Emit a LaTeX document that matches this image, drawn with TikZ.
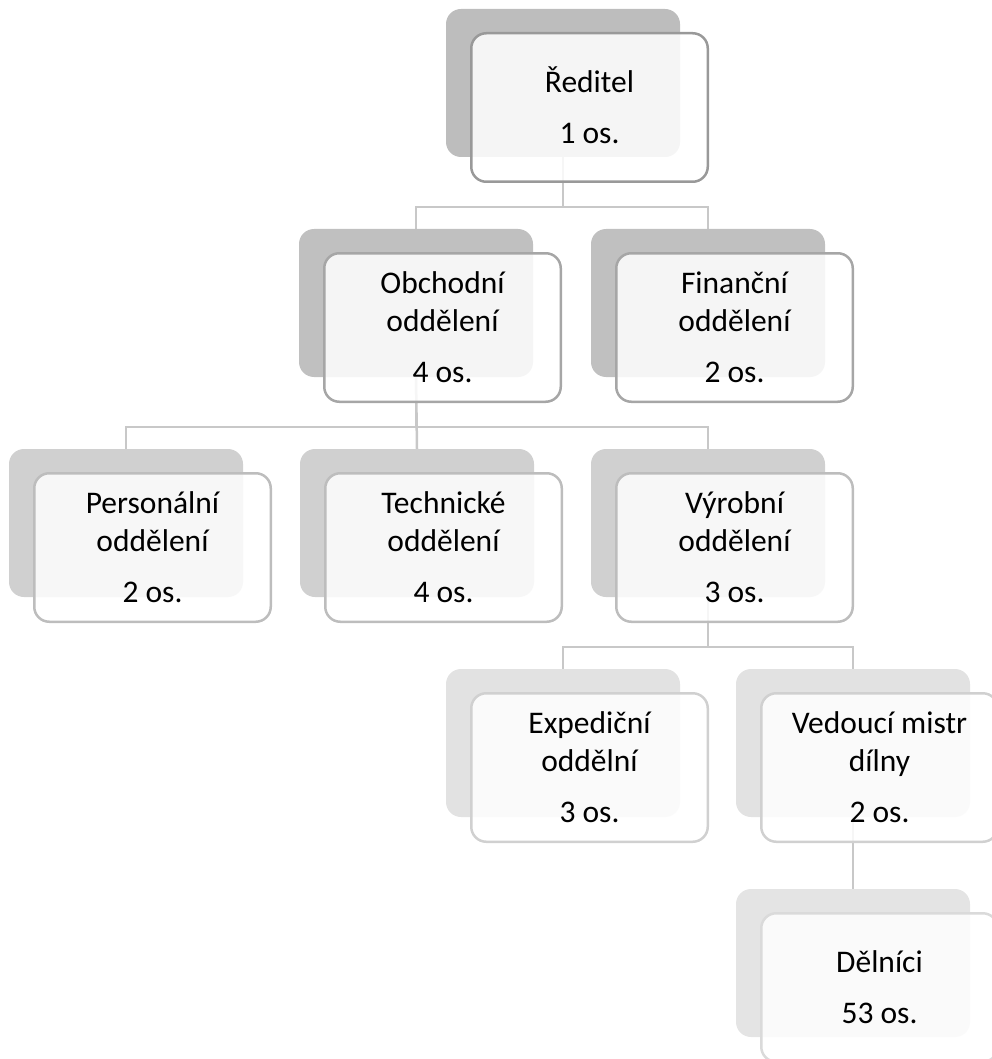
\documentclass[tikz,border=0pt]{standalone}
\usepackage{fontspec}
\setmainfont{Carlito}
\usetikzlibrary{calc,backgrounds}
\definecolor{shA}{HTML}{BDBDBD}\definecolor{bdA}{HTML}{999999}
\definecolor{shB}{HTML}{C0C0C0}\definecolor{bdB}{HTML}{A6A6A6}
\definecolor{shC}{HTML}{D0D0D0}\definecolor{bdC}{HTML}{BDBDBD}
\definecolor{shD}{HTML}{E2E2E2}\definecolor{bdD}{HTML}{D0D0D0}
\definecolor{shE}{HTML}{E4E4E4}\definecolor{bdE}{HTML}{DADADA}
\definecolor{conncol}{HTML}{C8C8C8}
\newcommand\orgunit[6]{%
  \node[shad, fill=#4] (#1s) at (#2,#3) {};
  \node[front, draw=#5] (#1) at ($(#2,#3)+(25.25,24.25)$) {};
  \node[lbl] (#1t) at ($(#2,#3)+(143.5,95)$) {\rule{0pt}{28pt}#6};}
\begin{document}
\begin{tikzpicture}[x=1pt,y=-1pt,
  shad/.style={anchor=north west, minimum width=234pt, minimum height=148pt, inner sep=0pt, outer sep=0pt, rounded corners=15pt, draw=none},
  front/.style={anchor=north west, minimum width=236.5pt, minimum height=148.5pt, inner sep=0pt, outer sep=0pt, rounded corners=15pt, line width=2.5pt, fill=white, fill opacity=0.85},
  lbl/.style={font=\fontsize{31.5}{38.4}\selectfont, align=center, inner sep=0pt, text=black},
  conn/.style={draw=conncol, line width=2.5pt}]
\useasboundingbox (0,0) rectangle (992,1059);
\orgunit{R}{446}{9}{shA}{bdA}{Ředitel\\[12pt]1 os.}
\orgunit{O}{299}{229}{shB}{bdB}{Obchodní\\oddělení\\[12pt]4 os.}
\orgunit{F}{591}{229}{shB}{bdB}{Finanční\\oddělení\\[12pt]2 os.}
\orgunit{P}{9}{449}{shC}{bdC}{Personální\\oddělení\\[12pt]2 os.}
\orgunit{T}{300}{449}{shC}{bdC}{Technické\\oddělení\\[12pt]4 os.}
\orgunit{V}{591}{449}{shC}{bdC}{Výrobní\\oddělení\\[12pt]3 os.}
\orgunit{E}{446}{669}{shD}{bdD}{Expediční\\oddělní\\[12pt]3 os.}
\orgunit{M}{736}{669}{shD}{bdD}{Vedoucí mistr\\dílny\\[12pt]2 os.}
\orgunit{D}{736}{889}{shE}{bdE}{Dělníci\\[12pt]53 os.}
\begin{scope}[on background layer]
  \draw[conn] (Rs.south) |- ([yshift=22pt]Os.north) -- (Os.north);
  \draw[conn] (Rs.south) |- ([yshift=22pt]Fs.north) -- (Fs.north);
  \draw[conn] (Os.south) |- ([yshift=22pt]Ps.north) -- (Ps.north);
  \draw[conn] (Os.south) -- (Ts.north);
  \draw[conn] (Os.south) |- ([yshift=22pt]Vs.north) -- (Vs.north);
  \draw[conn] (Vs.south) |- ([yshift=22pt]Es.north) -- (Es.north);
  \draw[conn] (Vs.south) |- ([yshift=22pt]Ms.north) -- (Ms.north);
  \draw[conn] (Ms.south) -- (Ds.north);
\end{scope}
\end{tikzpicture}
\end{document}
